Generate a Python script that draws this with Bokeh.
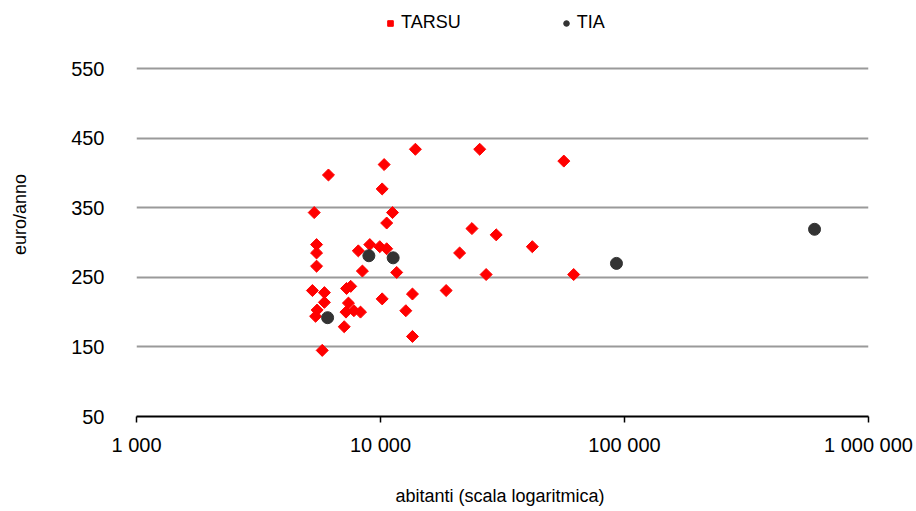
import numpy as np
from bokeh.plotting import figure
from bokeh.models import ColumnDataSource, FixedTicker, Legend, LegendItem
from bokeh.embed import file_html
from bokeh.resources import INLINE

# Municipal waste charge per household vs. population
tarsu_abitanti = [13900, 25500, 56400, 10350, 6120, 10160, 5350, 11200, 10600, 23700,
                  29800, 5470, 9040, 9930, 10600, 41900, 5470, 8110, 21100, 5470,
                  8430, 11650, 27100, 61900, 5260, 5890, 7260, 7550, 18580, 13520,
                  10160, 5890, 7390, 5500, 5420, 7220, 7780, 8280, 12700, 7100,
                  13520, 5770]
tarsu_euro = [434, 434, 417, 412, 397, 377, 343, 343, 328, 320,
              311, 297, 297, 294, 291, 294, 285, 288, 285, 266,
              259, 257, 254, 254, 231, 228, 234, 237, 231, 226,
              219, 214, 213, 203, 194, 200, 202, 200, 202, 179,
              165, 145]

tia_abitanti = [6070, 8960, 11270, 92700, 601000]
tia_euro = [192, 281, 278, 270, 319]

x_ticks = [1000, 10000, 100000, 1000000]
x_tick_labels = ["1 000", "10 000", "100 000", "1 000 000"]
y_ticks = [50, 150, 250, 350, 450, 550]

FONT = "Liberation Sans"

# the frame extends above 550 to leave room for the legend row
p = figure(width=916, height=511, x_axis_type="log",
           x_range=(1000, 1000000), y_range=(50, 630.5),
           output_backend="svg", toolbar_location=None,
           min_border_left=136, min_border_right=48,
           min_border_top=12, min_border_bottom=95)
p.outline_line_color = None
p.background_fill_color = "white"
p.border_fill_color = "white"

src_tarsu = ColumnDataSource(dict(x=tarsu_abitanti, y=tarsu_euro))
src_tia = ColumnDataSource(dict(x=tia_abitanti, y=tia_euro))

r_tarsu = p.scatter("x", "y", source=src_tarsu, marker="square", size=8.5,
                    angle=np.pi / 4, fill_color="#FF0000", line_color="#FF0000")
r_tia = p.scatter("x", "y", source=src_tia, marker="circle", size=12,
                  fill_color="#333333", line_color="#333333")

# x axis
p.xaxis.ticker = FixedTicker(ticks=x_ticks)
p.xaxis.major_label_overrides = {t: l for t, l in zip(x_ticks, x_tick_labels)}
p.xaxis.axis_line_color = "black"
p.xaxis.axis_line_width = 2
p.xaxis.major_tick_line_color = "black"
p.xaxis.major_tick_line_width = 1.5
p.xaxis.major_tick_in = 0
p.xaxis.major_tick_out = 6
p.xaxis.minor_tick_line_color = None
p.xaxis.major_label_text_font = FONT
p.xaxis.major_label_text_font_size = "20px"
p.xaxis.major_label_text_color = "black"
p.xaxis.major_label_standoff = 11
p.xaxis.axis_label = "abitanti  (scala logaritmica)"
p.xaxis.axis_label_text_font = FONT
p.xaxis.axis_label_text_font_size = "18px"
p.xaxis.axis_label_text_font_style = "normal"
p.xaxis.axis_label_text_color = "black"
p.xaxis.axis_label_standoff = 27

# y axis
p.yaxis.ticker = FixedTicker(ticks=y_ticks)
p.yaxis.axis_line_color = None
p.yaxis.major_tick_line_color = None
p.yaxis.minor_tick_line_color = None
p.yaxis.major_label_text_font = FONT
p.yaxis.major_label_text_font_size = "20px"
p.yaxis.major_label_text_color = "black"
p.yaxis.major_label_standoff = 26
p.yaxis.axis_label = "euro/anno"
p.yaxis.axis_label_text_font = FONT
p.yaxis.axis_label_text_font_size = "18px"
p.yaxis.axis_label_text_font_style = "normal"
p.yaxis.axis_label_text_color = "black"
p.yaxis.axis_label_standoff = 38

# grid
p.xgrid.grid_line_color = None
p.ygrid.ticker = FixedTicker(ticks=[150, 250, 350, 450, 550])
p.ygrid.grid_line_color = "#9A9A9A"
p.ygrid.grid_line_width = 2

legend = Legend(items=[LegendItem(label="TARSU", renderers=[r_tarsu]),
                       LegendItem(label="TIA", renderers=[r_tia])],
                orientation="horizontal", location=(247, 383),
                label_text_font=FONT, label_text_font_size="18px",
                label_text_color="black",
                glyph_width=14, glyph_height=14, spacing=98,
                label_standoff=4, border_line_color=None,
                background_fill_alpha=0, padding=0, margin=0)
p.add_layout(legend, "center")

open("out.html", "w").write(file_html(p, INLINE))
